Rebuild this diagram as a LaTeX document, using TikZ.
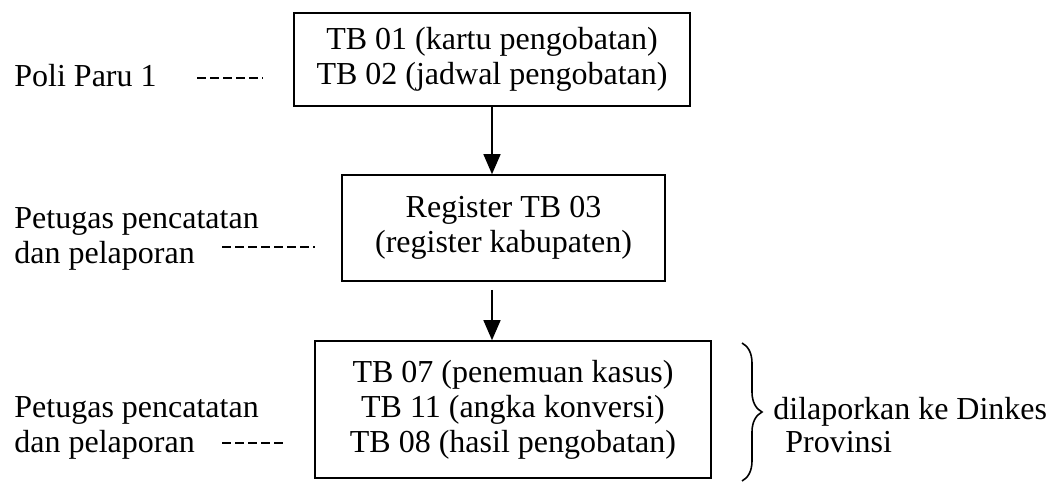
\documentclass[tikz,border=0pt]{standalone}
\usepackage{fontspec}
\setmainfont{Liberation Serif}
\usetikzlibrary{arrows.meta,decorations.pathreplacing}

\begin{document}
\begin{tikzpicture}[x=0.5pt,y=-0.5pt,
    form/.style={draw, line width=0.8pt, align=center, inner sep=0pt, font=\fontsize{16}{17.5}\selectfont},
    who/.style={anchor=base west, align=left, inner sep=0pt, font=\fontsize{16}{17.5}\selectfont},
    leader/.style={line width=1.1pt, dash pattern=on 4.5pt off 2pt},
    arr/.style={line width=0.7pt, -{Triangle[length=10pt,width=8.5pt]}}]
  \useasboundingbox (0,0) rectangle (1056,482);

  % kartu dan register
  \node[form, minimum width=198pt, minimum height=46.5pt] (kartu) at (492,59.5)
       {TB 01 (kartu pengobatan)\\TB 02 (jadwal pengobatan)};
  \node[form, minimum width=161.5pt, minimum height=53pt] (reg) at (503.5,228)
       {Register TB 03\\(register kabupaten)};
  \node[form, minimum width=198pt, minimum height=68.5pt] (lap) at (513,409.5)
       {TB 07 (penemuan kasus)\\TB 11 (angka konversi)\\TB 08 (hasil pengobatan)};

  \draw[arr] (kartu.south) -- (reg.north -| kartu.south);
  \draw[arr] ([yshift=-4pt]reg.south -| kartu.south) -- (lap.north -| kartu.south);

  % petugas
  \node[who] (poli) at (14,86) {Poli Paru 1};
  \node[who] (pet1) at (14,263) {Petugas pencatatan\\dan pelaporan};
  \node[who] (pet2) at (14,452) {Petugas pencatatan\\dan pelaporan};

  \coordinate (d1a) at (197,78);  \coordinate (d1b) at (263,78);
  \coordinate (d2a) at (222,247); \coordinate (d2b) at (315,247);
  \coordinate (d3a) at (222,443); \coordinate (d3b) at (287,443);
  \draw[leader] (d1a) -- (d1b);
  \draw[leader] (d2a) -- (d2b);
  \draw[leader] (d3a) -- (d3b);

  % laporan ke dinkes
  \coordinate (bt) at (742,343);
  \coordinate (bb) at (742,481);
  \draw[line width=0.8pt, decorate, decoration={brace, amplitude=10pt, aspect=0.5}] (bt) -- (bb);
  \node[who, font=\fontsize{16}{16.5}\selectfont] (dinkes) at (773,452)
       {dilaporkan ke Dinkes\\\hspace*{6pt}Provinsi};
\end{tikzpicture}
\end{document}
